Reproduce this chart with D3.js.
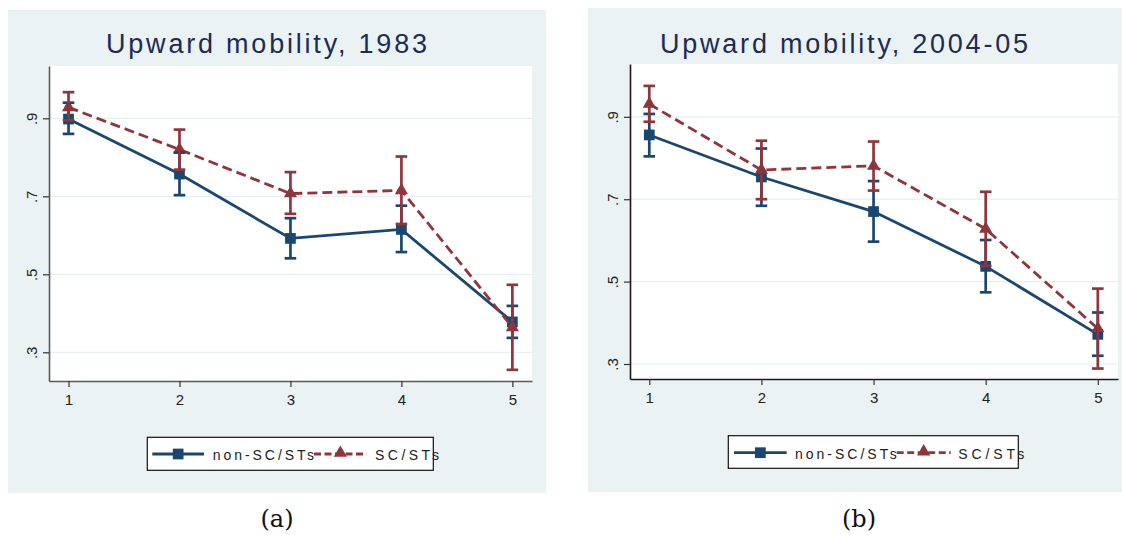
<!DOCTYPE html>
<html><head><meta charset="utf-8">
<script src="https://cdn.jsdelivr.net/npm/d3@7"></script>
<style>body{margin:0;background:#fff}svg{display:block}</style>
</head><body>
<svg id="chart" width="1122" height="535"></svg>
<script>
// ---------------- data ----------------
const categories = [1, 2, 3, 4, 5];
const yTickValues = [0.3, 0.5, 0.7, 0.9];
const yTickLabels = [".3", ".5", ".7", ".9"];
const seriesNames = ["non-SC/STs", "SC/STs"];
const titles = ["Upward mobility, 1983", "Upward mobility, 2004-05"];
const captions = ["(a)", "(b)"];

const nonSC1983    = [0.898, 0.757, 0.592, 0.615, 0.378];
const nonSC1983Lo  = [0.860, 0.703, 0.541, 0.557, 0.337];
const nonSC1983Hi  = [0.940, 0.812, 0.644, 0.676, 0.419];
const sc1983       = [0.928, 0.820, 0.707, 0.715, 0.364];
const sc1983Lo     = [0.895, 0.768, 0.655, 0.629, 0.255];
const sc1983Hi     = [0.967, 0.871, 0.762, 0.802, 0.473];

const nonSC2004    = [0.856, 0.754, 0.670, 0.537, 0.372];
const nonSC2004Lo  = [0.804, 0.684, 0.597, 0.474, 0.320];
const nonSC2004Hi  = [0.907, 0.823, 0.744, 0.601, 0.425];
const sc2004       = [0.931, 0.771, 0.781, 0.628, 0.386];
const sc2004Lo     = [0.888, 0.700, 0.721, 0.538, 0.289];
const sc2004Hi     = [0.975, 0.842, 0.840, 0.718, 0.483];

// ---------------- layout ----------------
const NAVY = "#1a476f", MAROON = "#90353b", BG = "#eaf2f3";
const FONT = "'Liberation Sans', Arial, Helvetica, sans-serif";

const panels = [
  { bg: [8, 10, 538, 483], l: 49, r: 532, t: 66, b: 381,
    yDomain: [0.2264, 1.0341], xDomain: [0.824, 5.177],
    axisColor: "#5a5a5a", yLabBase: 37, xLabBase: 23.5,
    title: [106, 427, 53],
    legend: { box: [147.3, 437.3, 286, 33], ly: 454,
      blue: [152.3, 204], t1: [212.7, 101.3], red: [314, 366.7], t2: [375, 64], tb: 460 },
    caption: [277, 527],
    nonSC: nonSC1983, nonSCLo: nonSC1983Lo, nonSCHi: nonSC1983Hi,
    sc: sc1983, scLo: sc1983Lo, scHi: sc1983Hi, titleText: titles[0], cap: captions[0] },
  { bg: [588, 8, 534, 484], l: 630, r: 1118, t: 64, b: 379,
    yDomain: [0.2636, 1.0282], xDomain: [0.828, 5.18],
    axisColor: "#1a1a1a", yLabBase: 617.5, xLabBase: 24,
    title: [660, 1028, 53],
    legend: { box: [728.3, 435.7, 290, 32.6], ly: 452.7,
      blue: [734, 786.7], t1: [795, 101.7], red: [896.7, 950.7], t2: [958.3, 66], tb: 459.3 },
    caption: [859, 527],
    nonSC: nonSC2004, nonSCLo: nonSC2004Lo, nonSCHi: nonSC2004Hi,
    sc: sc2004, scLo: sc2004Lo, scHi: sc2004Hi, titleText: titles[1], cap: captions[1] }
];

const svg = d3.select("#chart");

function drawPanel(p) {
  const g = svg.append("g");
  g.append("rect").attr("x", p.bg[0]).attr("y", p.bg[1]).attr("width", p.bg[2]).attr("height", p.bg[3]).attr("fill", BG);
  g.append("rect").attr("x", p.l).attr("y", p.t).attr("width", p.r - p.l).attr("height", p.b - p.t).attr("fill", "#fff");

  const x = d3.scaleLinear().domain(p.xDomain).range([p.l, p.r]);
  const y = d3.scaleLinear().domain(p.yDomain).range([p.b, p.t]);

  // gridlines
  g.selectAll(".grid").data(yTickValues).join("line")
    .attr("x1", p.l).attr("x2", p.r).attr("y1", d => y(d)).attr("y2", d => y(d))
    .attr("stroke", "#e6eff1").attr("stroke-width", 1.2);

  // title
  g.append("text").attr("x", p.title[0]).attr("y", p.title[2])
    .attr("textLength", p.title[1] - p.title[0]).attr("lengthAdjust", "spacing")
    .attr("font-family", FONT).attr("font-size", 27).attr("fill", "#1e2b52")
    .text(p.titleText);

  // y axis
  const ya = g.append("g").attr("transform", `translate(${p.l},0)`)
    .call(d3.axisLeft(y).tickValues(yTickValues).tickSize(6).tickSizeOuter(0)
      .tickFormat((v, i) => yTickLabels[i]));
  ya.select(".domain").attr("stroke", p.axisColor).attr("stroke-width", 1.6);
  ya.selectAll(".tick line").attr("stroke", "#333").attr("stroke-width", 1.2);
  ya.selectAll(".tick text").attr("x", null).attr("dy", null)
    .attr("transform", `translate(${p.yLabBase - p.l},0) rotate(-90)`)
    .attr("text-anchor", "middle").attr("font-family", FONT).attr("font-size", 15).attr("fill", "#222");

  // x axis
  const xa = g.append("g").attr("transform", `translate(0,${p.b})`)
    .call(d3.axisBottom(x).tickValues(categories).tickSize(6).tickSizeOuter(0).tickFormat(d3.format("d")));
  xa.select(".domain").attr("stroke", p.axisColor).attr("stroke-width", 1.6);
  xa.selectAll(".tick line").attr("stroke", "#333").attr("stroke-width", 1.2);
  xa.selectAll(".tick text").attr("dy", null).attr("y", p.xLabBase)
    .attr("font-family", FONT).attr("font-size", 15).attr("fill", "#222");

  const idx = d3.range(categories.length);
  const lineFor = vals => d3.line().x(i => x(categories[i])).y(i => y(vals[i]))(idx);

  // blue series
  g.append("path").attr("d", lineFor(p.nonSC)).attr("fill", "none")
    .attr("stroke", NAVY).attr("stroke-width", 2.8);
  g.selectAll(".sq").data(idx).join("path")
    .attr("transform", i => `translate(${x(categories[i])},${y(p.nonSC[i])})`)
    .attr("d", d3.symbol(d3.symbolSquare, 115)).attr("fill", NAVY);

  // red series
  g.append("path").attr("d", lineFor(p.sc)).attr("fill", "none")
    .attr("stroke", MAROON).attr("stroke-width", 2.8).attr("stroke-dasharray", "10,5");
  g.selectAll(".tri").data(idx).join("path")
    .attr("transform", i => `translate(${x(categories[i])},${y(p.sc[i])})`)
    .attr("d", d3.symbol(d3.symbolTriangle, 75)).attr("fill", MAROON);

  // confidence intervals (range caps)
  const capW = 5.8;
  function rcap(lo, hi, color) {
    const cg = g.append("g").attr("stroke", color).attr("stroke-width", 2.7).attr("fill", "none");
    idx.forEach(i => {
      const cx = x(categories[i]);
      cg.append("line").attr("x1", cx).attr("x2", cx).attr("y1", y(lo[i])).attr("y2", y(hi[i]));
      cg.append("line").attr("x1", cx - capW).attr("x2", cx + capW).attr("y1", y(lo[i])).attr("y2", y(lo[i]));
      cg.append("line").attr("x1", cx - capW).attr("x2", cx + capW).attr("y1", y(hi[i])).attr("y2", y(hi[i]));
    });
  }
  rcap(p.nonSCLo, p.nonSCHi, NAVY);
  rcap(p.scLo, p.scHi, MAROON);

  // legend
  const L = p.legend;
  g.append("rect").attr("x", L.box[0]).attr("y", L.box[1]).attr("width", L.box[2]).attr("height", L.box[3])
    .attr("fill", "#fff").attr("stroke", "#111").attr("stroke-width", 1.2);
  g.append("line").attr("x1", L.blue[0]).attr("x2", L.blue[1]).attr("y1", L.ly).attr("y2", L.ly)
    .attr("stroke", NAVY).attr("stroke-width", 2.8);
  g.append("path").attr("transform", `translate(${(L.blue[0] + L.blue[1]) / 2},${L.ly})`)
    .attr("d", d3.symbol(d3.symbolSquare, 115)).attr("fill", NAVY);
  g.append("text").attr("x", L.t1[0]).attr("y", L.tb).attr("textLength", L.t1[1]).attr("lengthAdjust", "spacing")
    .attr("font-family", FONT).attr("font-size", 14).attr("fill", "#222").text(seriesNames[0]);
  g.append("line").attr("x1", L.red[0]).attr("x2", L.red[1]).attr("y1", L.ly).attr("y2", L.ly)
    .attr("stroke", MAROON).attr("stroke-width", 2.8).attr("stroke-dasharray", "7,3.5");
  g.append("path").attr("transform", `translate(${(L.red[0] + L.red[1]) / 2},${L.ly - 1})`)
    .attr("d", d3.symbol(d3.symbolTriangle, 75)).attr("fill", MAROON);
  g.append("text").attr("x", L.t2[0]).attr("y", L.tb).attr("textLength", L.t2[1]).attr("lengthAdjust", "spacing")
    .attr("font-family", FONT).attr("font-size", 14).attr("fill", "#222").text(seriesNames[1]);

  // caption
  svg.append("text").attr("x", p.caption[0]).attr("y", p.caption[1]).attr("text-anchor", "middle")
    .attr("font-family", "'DejaVu Serif', 'Liberation Serif', serif").attr("font-size", 24).attr("fill", "#111")
    .text(p.cap);
}

panels.forEach(drawPanel);
</script>
</body></html>
